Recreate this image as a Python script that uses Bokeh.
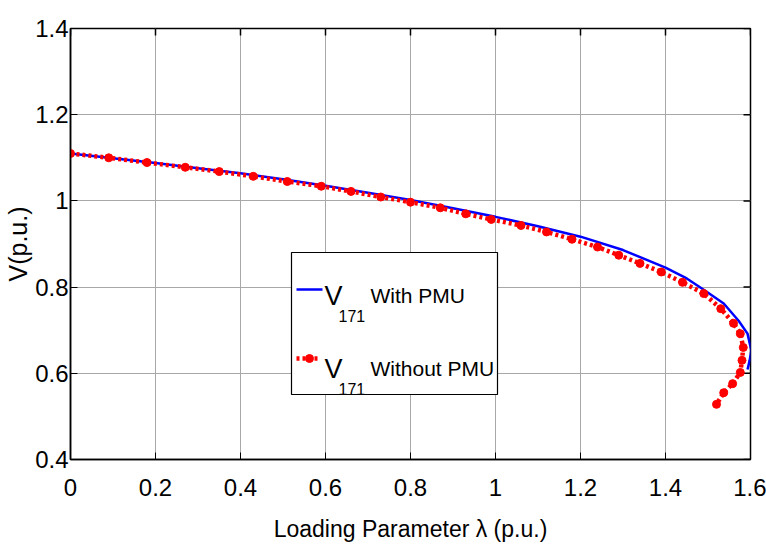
import math
from bokeh.plotting import figure
from bokeh.models import FixedTicker, Range1d, BoxAnnotation, Label
from bokeh.embed import file_html
from bokeh.resources import INLINE

# ---- data ----
lam_with = [0, 0.1, 0.2, 0.3, 0.4, 0.5, 0.6, 0.7, 0.8, 0.9, 1.0, 1.1, 1.2, 1.3,
            1.4, 1.45, 1.49, 1.537, 1.572, 1.593, 1.602, 1.598, 1.593]
v_with = [1.110, 1.099, 1.088, 1.076, 1.064, 1.050, 1.035, 1.019, 1.002, 0.983,
          0.963, 0.941, 0.917, 0.886, 0.845, 0.820, 0.794, 0.762, 0.722, 0.692,
          0.653, 0.630, 0.609]

lam_without = [0, 0.09, 0.18, 0.27, 0.35, 0.43, 0.51, 0.59, 0.66, 0.73, 0.80, 0.87,
               0.93, 0.99, 1.06, 1.12, 1.18, 1.24, 1.29, 1.34, 1.39, 1.44, 1.49,
               1.53, 1.56, 1.576, 1.583, 1.58, 1.576, 1.558, 1.537, 1.52]
v_without = [1.110, 1.100, 1.089, 1.078, 1.068, 1.057, 1.045, 1.034, 1.022, 1.009,
             0.997, 0.984, 0.970, 0.957, 0.943, 0.928, 0.911, 0.893, 0.874, 0.855,
             0.835, 0.811, 0.785, 0.750, 0.716, 0.692, 0.660, 0.630, 0.602, 0.576,
             0.555, 0.528]

x_ticks = [0, 0.2, 0.4, 0.6, 0.8, 1.0, 1.2, 1.4, 1.6]
y_ticks = [0.4, 0.6, 0.8, 1.0, 1.2, 1.4]
x_tick_labels = {0: "0", 0.2: "0.2", 0.4: "0.4", 0.6: "0.6", 0.8: "0.8", 1.0: "1",
                 1.2: "1.2", 1.4: "1.4", 1.6: "1.6"}
y_tick_labels = {0.4: "0.4", 0.6: "0.6", 0.8: "0.8", 1.0: "1", 1.2: "1.2", 1.4: "1.4"}
legend_names = ["With PMU", "Without PMU"]
legend_sub = "171"

FONT = "Liberation Sans"

W, H = 766, 554
ML, MR, MT, MB = 70, 16, 28, 95
X0, X1, Y0, Y1 = 0, 1.6, 0.4, 1.4

p = figure(width=W, height=H, output_backend="svg", toolbar_location=None,
           x_range=Range1d(X0, X1), y_range=Range1d(Y0, Y1),
           min_border_left=ML, min_border_right=MR, min_border_top=MT,
           min_border_bottom=MB)
p.background_fill_color = "white"
p.border_fill_color = "white"
p.outline_line_color = "black"
p.outline_line_width = 1.5

for ax, ticks, labels in ((p.xaxis[0], x_ticks, x_tick_labels), (p.yaxis[0], y_ticks, y_tick_labels)):
    ax.ticker = FixedTicker(ticks=ticks)
    ax.major_label_overrides = labels
    ax.major_label_text_font = FONT
    ax.major_label_text_font_size = "24px"
    ax.major_label_text_color = "black"
    ax.major_tick_in = 7
    ax.major_tick_out = 0
    ax.minor_tick_line_color = None
    ax.axis_line_color = "black"
    ax.axis_line_width = 1.5
    ax.major_tick_line_color = "black"
    ax.axis_label_text_color = "black"
    ax.axis_label_text_font = FONT
    ax.axis_label_text_font_style = "normal"

p.xaxis.major_label_standoff = 19
p.yaxis.major_label_standoff = 2
p.xaxis.axis_label = "Loading Parameter \u03bb (p.u.)"
p.xaxis.axis_label_text_font_size = "23px"
p.xaxis.axis_label_standoff = 17
p.yaxis.axis_label = "V(p.u.)"
p.yaxis.axis_label_text_font_size = "25px"
p.yaxis.axis_label_standoff = 0

p.xgrid.ticker = FixedTicker(ticks=x_ticks)
p.ygrid.ticker = FixedTicker(ticks=y_ticks)
p.grid.grid_line_color = "#a8a8a8"
p.grid.grid_line_width = 1

# inside ticks on the right and top edges
p.ray(x=[X1] * len(y_ticks), y=y_ticks, length=7, length_units="screen",
      angle=math.pi, line_color="black", line_width=1.5)
p.ray(x=x_ticks, y=[Y1] * len(x_ticks), length=7, length_units="screen",
      angle=-math.pi / 2, line_color="black", line_width=1.5)

# curves
p.line(lam_with, v_with, line_color="#0000ff", line_width=2.5)
p.line(lam_without, v_without, line_color="#ff0000", line_width=4.5, line_dash="3 3")
p.scatter(lam_without, v_without, marker="circle", size=8, fill_color="#ff0000",
          line_color="#ff0000")

# ---- hand-drawn legend (to show subscripts) ----
def dx(px):
    return X0 + (px - ML) / (W - ML - MR) * (X1 - X0)

def dy(py):
    return Y0 + (H - MB - py) / (H - MB - MT) * (Y1 - Y0)

p.add_layout(BoxAnnotation(left=dx(291), right=dx(497), top=dy(252), bottom=dy(394),
                           fill_color="white", fill_alpha=1.0, line_color="black",
                           line_alpha=1.0, line_width=1.2, level="annotation"))
p.line([dx(296), dx(322)], [dy(289), dy(289)], line_color="#0000ff", line_width=2.5,
       level="overlay")
p.line([dx(296), dx(320)], [dy(358), dy(358)], line_color="#ff0000", line_width=4.5,
       line_dash="3 3", level="overlay")
p.scatter([dx(309)], [dy(358)], marker="circle", size=8, fill_color="#ff0000",
          line_color="#ff0000", level="overlay")

for txt, base in zip(legend_names, [295, 368]):
    p.add_layout(Label(x=dx(324), y=dy(base), text="V", text_font=FONT,
                       text_font_size="27px", text_color="black", level="overlay",
                       text_baseline="alphabetic"))
    p.add_layout(Label(x=dx(338), y=dy(base + 20), text=legend_sub, text_font=FONT,
                       text_font_size="16px", text_color="black", level="overlay",
                       text_baseline="alphabetic"))
    p.add_layout(Label(x=dx(370), y=dy(base), text=txt, text_font=FONT,
                       text_font_size="21px", text_color="black", level="overlay",
                       text_baseline="alphabetic"))

open("out.html", "w").write(file_html(p, INLINE))
